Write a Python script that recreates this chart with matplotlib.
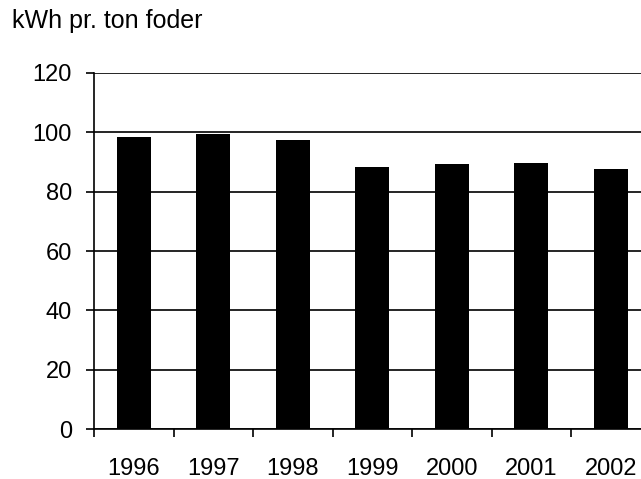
import matplotlib.pyplot as plt
import numpy as np

plt.rcParams["font.family"] = ["Liberation Sans", "DejaVu Sans"]

YEARS = ["1996", "1997", "1998", "1999", "2000", "2001", "2002"]
KWH_PER_TON = [98.3, 99.3, 97.3, 88.4, 89.2, 89.5, 87.5]
Y_TICKS = [0, 20, 40, 60, 80, 100, 120]

fig = plt.figure(figsize=(6.41, 4.79), dpi=100)
# the axes run past the right edge of the figure, as in the source picture
ax = fig.add_axes([94 / 641, 50 / 479, 556.5 / 641, 356 / 479])

x = np.arange(len(YEARS))
ax.bar(x, KWH_PER_TON, width=0.43, color="black", zorder=3)

ax.set_xlim(-0.5, len(YEARS) - 0.5)
ax.set_ylim(0, 120)
ax.set_yticks(Y_TICKS)
ax.set_yticklabels([str(v) for v in Y_TICKS])
ax.yaxis.grid(True, color="black", linewidth=1.2)
ax.set_axisbelow(True)

# boundary ticks without labels, year labels centred under the bars
ax.set_xticks(np.arange(len(YEARS) + 1) - 0.5)
ax.set_xticklabels([])
ax.set_xticks(x, minor=True)
ax.set_xticklabels(YEARS, minor=True)
ax.tick_params(axis="x", which="major", direction="out", length=6, width=1.2)
ax.tick_params(axis="x", which="minor", length=0, pad=21, labelsize=17)
ax.tick_params(axis="y", direction="out", length=6, width=1.2, pad=10, labelsize=17)

for side in ("top", "right"):
    ax.spines[side].set_visible(False)
for side in ("left", "bottom"):
    ax.spines[side].set_linewidth(1.2)

fig.text(12 / 641, 1 - 21 / 479, "kWh pr. ton foder", fontsize=18, va="center", ha="left")

fig.savefig("out.png", dpi=100)
